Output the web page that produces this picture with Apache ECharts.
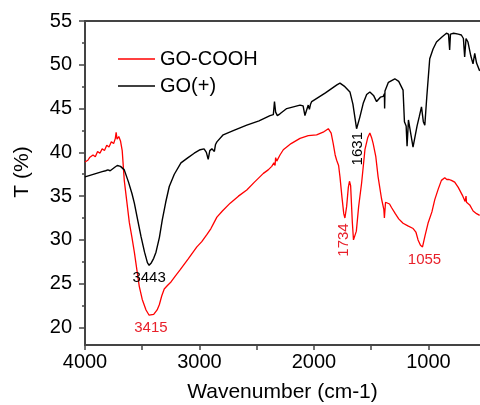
<!DOCTYPE html>
<html>
<head>
<meta charset="utf-8">
<script src="https://cdn.jsdelivr.net/npm/echarts@6.0.0/dist/echarts.min.js"></script>
<style>
  html, body { margin: 0; padding: 0; background: #fff; }
  #main { width: 480px; height: 405px; }
</style>
</head>
<body>
<div id="main"></div>
<script>
// GO-COOH spectrum (wavenumber / transmittance)
var goCoohWn = [4000, 3975, 3960, 3950, 3930, 3910, 3890, 3870, 3850, 3830, 3810, 3790, 3770, 3750, 3735, 3728, 3720, 3705, 3690, 3675,
  3657, 3635, 3613, 3590, 3569, 3545, 3526, 3500, 3467, 3440, 3424, 3400, 3370, 3351, 3330, 3308, 3280, 3249, 3210, 3168,
  3100, 3023, 2980, 2936, 2900, 2880, 2870, 2848, 2800, 2732, 2660, 2587, 2520, 2442, 2400, 2369, 2350, 2340, 2335, 2325,
  2297, 2268, 2200, 2122, 2050, 1977, 1920, 1875, 1850, 1832, 1815, 1802, 1785, 1773, 1755, 1740, 1730, 1715, 1700, 1690,
  1680, 1665, 1655, 1645, 1630, 1610, 1584, 1555, 1530, 1512, 1495, 1483, 1460, 1440, 1410, 1390, 1385, 1375, 1361, 1340,
  1323, 1290, 1260, 1222, 1180, 1134, 1110, 1091, 1070, 1052, 1030, 1004, 970, 945, 915, 887, 858, 840, 820, 800,
  771, 740, 700, 680, 672, 668, 640, 610, 580, 553];
var goCoohT = [38.9, 39.1, 39.4, 39.2, 39.7, 39.5, 40.1, 39.9, 40.4, 40.2, 40.8, 40.6, 41.2, 41.0, 41.6, 42.3, 41.5, 41.8, 41.3, 40.2,
  36.8, 34.4, 32.0, 30.3, 28.6, 26.4, 24.7, 23.2, 22.0, 21.4, 21.3, 21.5, 22.0, 22.6, 23.6, 24.4, 24.8, 25.2, 25.9, 26.6,
  27.8, 29.2, 29.8, 30.6, 31.3, 31.8, 31.6, 32.6, 33.3, 34.2, 35.0, 35.7, 36.6, 37.6, 38.0, 38.4, 38.8, 38.5, 39.4, 39.0,
  39.7, 40.3, 41.0, 41.6, 41.9, 42.0, 42.3, 42.7, 42.2, 41.0, 39.7, 39.1, 38.5, 37.2, 34.8, 33.0, 32.5, 33.8, 36.0, 36.7,
  36.2, 32.0, 30.0, 29.8, 31.0, 33.8, 36.5, 40.3, 41.7, 42.2, 41.6, 41.0, 39.5, 37.2, 34.7, 33.5, 32.5, 34.3, 34.3, 34.1,
  33.7, 33.0, 32.4, 31.9, 31.6, 31.3, 30.9, 30.0, 29.4, 29.2, 30.5, 31.9, 33.2, 34.6, 35.8, 36.8, 37.1, 36.9, 36.9, 36.8,
  36.6, 36.0, 35.0, 34.4, 35.0, 34.3, 34.0, 33.3, 33.0, 32.8];

// GO(+) spectrum
var goPlusWn = [4000, 3950, 3900, 3850, 3820, 3800, 3780, 3760, 3740, 3718, 3690, 3657, 3620, 3590, 3569, 3540, 3511, 3480, 3455, 3440,
  3420, 3400, 3380, 3350, 3325, 3295, 3264, 3220, 3162, 3100, 3046, 2994, 2960, 2940, 2924, 2910, 2892, 2870, 2860, 2848,
  2793, 2700, 2587, 2480, 2384, 2355, 2345, 2335, 2320, 2297, 2238, 2122, 2095, 2079, 2065, 2050, 2040, 2030, 2020, 1900,
  1800, 1773, 1730, 1686, 1660, 1628, 1600, 1570, 1540, 1512, 1480, 1453, 1420, 1395, 1385, 1383, 1380, 1350, 1294, 1260,
  1222, 1210, 1195, 1187, 1175, 1160, 1135, 1119, 1100, 1080, 1061, 1045, 1032, 1015, 989, 960, 930, 880, 843, 825,
  815, 808, 780, 740, 713, 695, 684, 672, 655, 630, 611, 596, 580, 553];
var goPlusT = [37.2, 37.4, 37.6, 37.8, 37.9, 38.0, 37.9, 38.1, 38.3, 38.5, 38.4, 38.0, 36.6, 35.3, 34.2, 32.3, 30.4, 28.6, 27.4, 27.1,
  27.4, 27.9, 28.6, 30.3, 32.3, 34.3, 36.1, 37.5, 38.8, 39.4, 39.9, 40.3, 40.4, 40.0, 39.2, 40.2, 40.4, 40.1, 40.9, 41.2,
  42.0, 42.5, 43.1, 43.6, 44.2, 44.3, 45.8, 44.6, 44.2, 44.4, 45.0, 45.4, 45.3, 44.2, 44.8, 45.4, 44.9, 45.5, 45.8, 46.8,
  47.7, 47.9, 47.5, 46.9, 45.5, 42.7, 44.0, 45.6, 46.6, 46.9, 46.5, 45.8, 46.3, 46.4, 46.7, 45.0, 47.0, 48.0, 48.4, 48.1,
  47.1, 43.5, 43.0, 40.7, 43.7, 43.7, 40.6, 40.5, 43.0, 44.1, 45.2, 43.5, 43.1, 46.3, 50.7, 51.8, 52.6, 53.2, 53.6, 53.5,
  51.7, 53.5, 53.6, 53.5, 53.4, 53.0, 50.9, 53.0, 52.6, 51.0, 50.1, 51.3, 50.2, 49.3];

// peak labels
var coohPeakNames = ["3415", "1734", "1055"];
var coohPeakWn = [3424, 1730, 1052];
var coohPeakT = [21.3, 32.5, 29.2];
var plusPeakNames = ["3443", "1631"];
var plusPeakWn = [3440, 1628];
var plusPeakT = [27.1, 42.7];

// axis ticks
var xLabelValues = [4000, 3000, 2000, 1000];
var xTickValues = [4000, 3500, 3000, 2500, 2000, 1500, 1000];
var yLabelValues = [20, 25, 30, 35, 40, 45, 50, 55];
var yMinorValues = [22.5, 27.5, 32.5, 37.5, 42.5, 47.5, 52.5];

function zip(a, b) {
  var out = [];
  for (var i = 0; i < a.length; i++) out.push([a[i], b[i]]);
  return out;
}

var red = "#ff0000";
var redText = "#e8202a";
var axisColor = "#444";
var font = "'Liberation Sans', Arial, sans-serif";

// label offsets / rotation for each peak text (offset is in the rotated frame)
var coohLabelStyle = [
  { offset: [0, 12], rotate: 0 },
  { offset: [-22, -1], rotate: 90 },
  { offset: [2, 13], rotate: 0 }
];
var plusLabelStyle = [
  { offset: [0, 13], rotate: 0 },
  { offset: [-20, 1], rotate: 90 }
];

function peakMarks(names, wn, t, styles, color) {
  var out = [];
  for (var i = 0; i < names.length; i++) {
    out.push({
      name: names[i],
      coord: [wn[i], t[i]],
      label: {
        show: true,
        position: "inside",
        formatter: "{b}",
        color: color,
        fontSize: 15,
        fontFamily: font,
        offset: styles[i].offset,
        rotate: styles[i].rotate
      }
    });
  }
  return out;
}

function plainNum(v) {
  return String(v);
}

var myChart = echarts.init(document.getElementById("main"));

var option = {
  animation: false,
  backgroundColor: "#fff",
  textStyle: { fontFamily: font },
  grid: { left: 85, right: 0, top: 21, bottom: 60, containLabel: false, outerBoundsMode: "none" },
  legend: {
    orient: "vertical",
    left: 113,
    top: 44,
    icon: "rect",
    itemWidth: 37,
    itemHeight: 1.5,
    itemGap: 7,
    textStyle: { fontSize: 20, color: "#000", lineHeight: 20, fontFamily: font },
    data: ["GO-COOH", "GO(+)"]
  },
  xAxis: [
    {
      type: "value",
      inverse: true,
      min: 550,
      max: 4000,
      position: "bottom",
      name: "Wavenumber (cm-1)",
      nameLocation: "middle",
      nameGap: 37,
      nameTextStyle: { fontSize: 21, color: "#000", fontFamily: font },
      axisLine: { onZero: false, lineStyle: { color: axisColor, width: 2 } },
      axisTick: { show: true, length: 5, customValues: xTickValues, lineStyle: { color: axisColor, width: 1.5 } },
      axisLabel: { customValues: xLabelValues, formatter: plainNum, fontSize: 20, color: "#000", margin: 7, fontFamily: font },
      splitLine: { show: false }
    },
    {
      // top frame line
      type: "value",
      inverse: true,
      min: 550,
      max: 4000,
      position: "top",
      axisLine: { show: true, onZero: false, lineStyle: { color: axisColor, width: 2 } },
      axisTick: { show: false },
      axisLabel: { show: false },
      splitLine: { show: false }
    }
  ],
  yAxis: [
    {
      type: "value",
      min: 18,
      max: 55,
      position: "left",
      name: "T (%)",
      nameLocation: "middle",
      nameGap: 52,
      nameTextStyle: { fontSize: 21, color: "#000", fontFamily: font, padding: [0, 0, 0, 22] },
      axisLine: { show: true, onZero: false, lineStyle: { color: axisColor, width: 2 } },
      axisTick: { show: true, length: 6, customValues: yLabelValues, lineStyle: { color: axisColor, width: 1.5 } },
      axisLabel: { customValues: yLabelValues, formatter: plainNum, fontSize: 20, color: "#000", margin: 13, fontFamily: font },
      splitLine: { show: false }
    },
    {
      // minor ticks
      type: "value",
      min: 18,
      max: 55,
      position: "left",
      axisLine: { show: false },
      axisTick: { show: true, length: 3, customValues: yMinorValues, lineStyle: { color: axisColor, width: 1.5 } },
      axisLabel: { show: false },
      splitLine: { show: false }
    }
  ],
  series: [
    {
      name: "GO-COOH",
      type: "line",
      xAxisIndex: 0,
      yAxisIndex: 0,
      symbol: "none",
      showSymbol: false,
      color: red,
      lineStyle: { color: red, width: 1.3 },
      data: zip(goCoohWn, goCoohT),
      markPoint: {
        symbol: "circle",
        symbolSize: 0,
        silent: true,
        data: peakMarks(coohPeakNames, coohPeakWn, coohPeakT, coohLabelStyle, redText)
      }
    },
    {
      name: "GO(+)",
      type: "line",
      xAxisIndex: 0,
      yAxisIndex: 0,
      symbol: "none",
      showSymbol: false,
      color: "#000",
      lineStyle: { color: "#000", width: 1.4 },
      data: zip(goPlusWn, goPlusT),
      markPoint: {
        symbol: "circle",
        symbolSize: 0,
        silent: true,
        data: peakMarks(plusPeakNames, plusPeakWn, plusPeakT, plusLabelStyle, "#000")
      }
    }
  ]
};

myChart.setOption(option);
</script>
</body>
</html>
